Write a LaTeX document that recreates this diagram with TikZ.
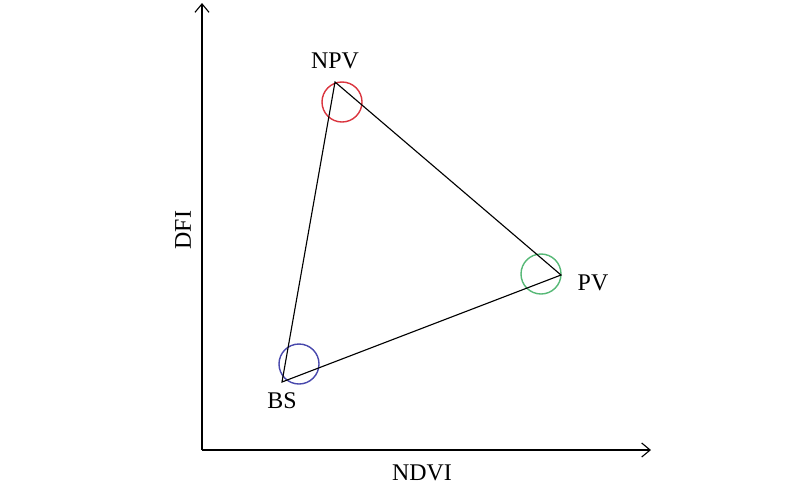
\documentclass[tikz,border=0pt]{standalone}
\usepackage{fontspec}
\setmainfont{Liberation Serif}
\usepackage{tikz}
\usepgflibrary{arrows.meta}
\usetikzlibrary{calc}

\definecolor{npvred}{RGB}{218,52,62}
\definecolor{pvgreen}{RGB}{86,184,118}
\definecolor{bsblue}{RGB}{72,72,172}

\begin{document}
\begin{tikzpicture}[
        x=0.025cm, y=-0.025cm,
        axis arrow/.style={
        arrows = {-Straight Barb[length=6pt,width=10pt]},
        line width=0.8pt
        },
        edge/.style={
                line width=0.8pt
            },
        dot/.style={
                inner sep=0pt,
                circle,
                draw=none
            },
        ring/.style={
                circle,
                draw,
                line width=1pt,
                inner sep=0pt,
                minimum size=1cm
            },
        label/.style={
                font=\fontsize{17}{20}\selectfont
            }]
        \useasboundingbox (0,0) rectangle (800,489);

        \node [dot] (o) at (202,450) {};
        \coordinate (ytop) at (202,3);
        \coordinate (xend) at (651,450);

        \node [dot] (npv) at (335,82) {};
        \node [dot] (pv) at (561,275) {};
        \node [dot] (bs) at (282,382) {};

        \node [ring, draw=npvred] (npvring) at ($(npv) + (7,20)$) {};
        \node [ring, draw=pvgreen] (pvring) at ($(pv) + (-20,-1)$) {};
        \node [ring, draw=bsblue] (bsring) at ($(bs) + (17,-18)$) {};

        \node [label] at ($(npv) + (0,-21)$) {NPV};
        \node [label] at ($(pv) + (32,8)$) {PV};
        \node [label] at ($(bs) + (0,19)$) {BS};
        \node [label, rotate=90] at ($(o) + (-19,-220)$) {DFI};
        \node [label] at ($(o) + (220,23)$) {NDVI};

        \draw [axis arrow] (o.center) to (ytop);
        \draw [axis arrow] (o.center) to (xend);

        \draw [edge] (npv.center) -- (pv.center) -- (bs.center) -- cycle;
    \end{tikzpicture}
\end{document}
